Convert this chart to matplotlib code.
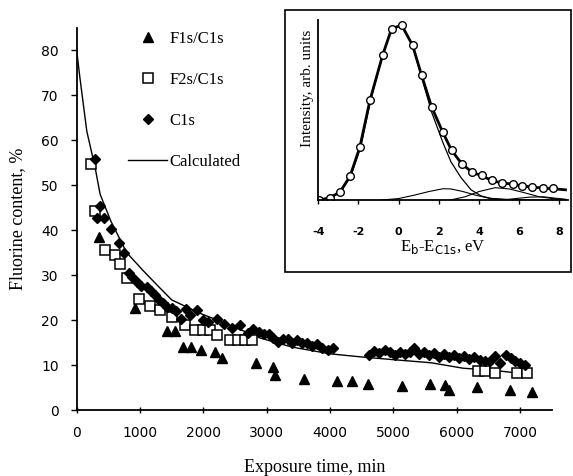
import matplotlib
matplotlib.use("Agg")
import matplotlib.pyplot as plt
from matplotlib.patches import Rectangle

plt.rcParams["axes.unicode_minus"] = False

# ---------------- main plot data ----------------
f1s_t = [350, 921, 1422, 1553, 1675, 1806, 1964, 2185, 2290, 2833, 3096, 3133,
         3591, 4107, 4344, 4607, 5134, 5581, 5818, 5871, 6319, 6834, 7188]
f1s_v = [38.4, 22.8, 17.5, 17.5, 14.0, 14.0, 13.4, 13.0, 11.5, 10.4, 9.5, 7.8,
         6.9, 6.5, 6.5, 5.8, 5.4, 5.8, 5.6, 4.5, 5.1, 4.5, 4.1]

f2s_t = [225, 290, 450, 605, 685, 790, 990, 1160, 1320, 1500, 1710, 1870, 2000,
         2110, 2210, 2420, 2550, 2660, 2770, 6340, 6450, 6610, 6950, 7110]
f2s_v = [54.7, 44.3, 35.7, 34.6, 32.4, 29.4, 24.6, 23.1, 22.3, 20.8, 19.0, 17.9, 17.9,
         17.9, 16.7, 15.6, 15.6, 15.6, 15.6, 8.6, 8.6, 8.2, 8.2, 8.2]

c1s_t = [290, 370, 320, 430, 540, 660, 740, 820, 880, 950, 1020, 1110, 1180, 1240,
         1300, 1360, 1430, 1500, 1560, 1640, 1730, 1790, 1900, 1990, 2080, 2220,
         2330, 2450, 2580, 2700, 2790, 2880, 2950, 3030, 3100, 3180, 3260, 3330,
         3400, 3480, 3560, 3640, 3720, 3800, 3880, 3960, 4040, 4620, 4700, 4780,
         4860, 4940, 5020, 5100, 5180, 5260, 5330, 5400, 5480, 5560, 5640, 5720,
         5800, 5880, 5960, 6040, 6120, 6200, 6280, 6360, 6440, 6520, 6600, 6680,
         6780, 6850, 6920, 7000, 7080]
c1s_v = [55.8, 45.3, 42.8, 42.8, 40.2, 37.2, 35.0, 30.5, 29.5, 28.5, 27.5, 27.3, 26.5, 25.5,
         24.5, 23.8, 23.0, 22.6, 22.0, 20.3, 22.5, 21.2, 22.3, 20.0, 19.5, 20.3,
         19.2, 18.3, 19.0, 17.2, 18.0, 17.3, 16.8, 16.9, 16.0, 15.2, 15.7, 15.9,
         15.0, 15.6, 15.0, 14.8, 14.2, 14.6, 13.9, 13.4, 13.9, 12.3, 13.2, 12.6,
         13.3, 12.9, 12.2, 13.0, 12.4, 12.9, 13.8, 12.5, 12.9, 12.3, 12.7, 11.9,
         12.5, 11.8, 12.3, 11.5, 12.1, 11.4, 11.8, 11.2, 11.0, 10.8, 12.0, 10.5,
         12.3, 11.6, 11.0, 10.4, 10.0]

calc_t = [0, 50, 160, 290, 370, 540, 790, 1050, 1290, 1500, 1950, 2400, 2900,
          3400, 4000, 4500, 5000, 5600, 6100, 6600, 7100]
calc_v = [80, 74, 62, 54, 48, 42, 35, 31, 27.5, 24.5, 21.5, 19.0, 16.0,
          14.0, 12.5, 11.8, 11.2, 10.5, 9.3, 8.8, 8.0]

x_ticks = [0, 1000, 2000, 3000, 4000, 5000, 6000, 7000]
y_ticks = [0, 10, 20, 30, 40, 50, 60, 70, 80]

# ---------------- inset data ----------------
exp_e = [-3.95, -3.42, -2.92, -2.42, -1.93, -1.43, -0.80, -0.35, 0.15, 0.69, 1.14,
         1.64, 2.19, 2.63, 3.13, 3.63, 4.13, 4.62, 5.12, 5.67, 6.12, 6.61, 7.19, 7.66]
exp_i = [0.0, 0.015, 0.048, 0.137, 0.305, 0.571, 0.829, 0.981, 1.0, 0.886, 0.714,
         0.533, 0.390, 0.286, 0.210, 0.162, 0.143, 0.114, 0.099, 0.095, 0.082,
         0.076, 0.072, 0.072]
fit_e = [-4.0, -3.42, -2.92, -2.42, -1.93, -1.43, -0.80, -0.35, 0.15, 0.69, 1.14,
         1.64, 2.19, 2.63, 3.13, 3.63, 4.13, 4.62, 5.12, 5.67, 6.12, 6.61, 7.19, 7.66, 8.3]
fit_i = [0.0, 0.015, 0.048, 0.137, 0.305, 0.571, 0.829, 0.981, 1.0, 0.886, 0.714,
         0.533, 0.390, 0.286, 0.210, 0.162, 0.140, 0.114, 0.099, 0.093, 0.082,
         0.076, 0.070, 0.066, 0.060]
main_e = [-4.0, -3.4, -2.9, -2.4, -1.9, -1.4, -0.8, -0.35, 0.15, 0.7, 1.15, 1.65,
          2.2, 2.6, 3.1, 3.6, 4.1, 4.6, 5.5, 8.3]
main_i = [0.0, 0.015, 0.047, 0.135, 0.30, 0.57, 0.83, 0.98, 1.0, 0.88, 0.70, 0.50,
          0.33, 0.22, 0.13, 0.06, 0.025, 0.01, 0.003, 0.0]
c2_e = [-1.0, 0.0, 0.8, 1.5, 2.2, 2.6, 3.2, 3.8, 4.5, 5.5, 6.5]
c2_i = [0.0, 0.01, 0.03, 0.05, 0.066, 0.065, 0.05, 0.03, 0.012, 0.003, 0.0]
c3_e = [2.5, 3.3, 4.0, 4.8, 5.5, 6.2, 7.0, 7.8, 8.3]
c3_i = [0.0, 0.02, 0.05, 0.072, 0.065, 0.045, 0.02, 0.008, 0.003]
c4_e = [4.5, 5.5, 6.5, 7.2, 7.8, 8.3]
c4_i = [0.0, 0.006, 0.018, 0.02, 0.012, 0.006]
inset_ticks = [-4, -2, 0, 2, 4, 6, 8]

SERIF = ["Liberation Serif", "DejaVu Serif"]
SANS = ["DejaVu Sans"]

W, H = 573, 476
fig = plt.figure(figsize=(W / 100, H / 100), dpi=100)

def fx(px):
    return px / W

def fy(py):
    return 1 - py / H

# main axes: x 0..7500 at px 76.7..551.7 ; y 0..85 at px 410..28
ax = fig.add_axes([fx(76.7), fy(410), fx(551.7) - fx(76.7), fy(28) - fy(410)])
ax.plot(calc_t, calc_v, color="black", lw=1.0, label="Calculated", zorder=2)
ax.plot(f1s_t, f1s_v, ls="none", marker="^", ms=6.5, color="black", label="F1s/C1s", zorder=3)
ax.plot(f2s_t, f2s_v, ls="none", marker="s", ms=6.5, mfc="white", mec="black",
        mew=1.1, label="F2s/C1s", zorder=3)
ax.plot(c1s_t, c1s_v, ls="none", marker="D", ms=5.5, color="black", label="C1s", zorder=4)

ax.set_xlim(0, 7500)
ax.set_ylim(0, 85)
ax.set_xticks(x_ticks)
ax.set_yticks(y_ticks)
for s in ["top", "right"]:
    ax.spines[s].set_visible(False)
for s in ["left", "bottom"]:
    ax.spines[s].set_linewidth(1.3)
ax.tick_params(axis="x", direction="inout", length=5, width=1.0, pad=9, labelsize=10)
ax.tick_params(axis="y", direction="out", length=4, width=1.0, pad=9, labelsize=10)
for lab in ax.get_xticklabels() + ax.get_yticklabels():
    lab.set_family(SANS)
ax.set_xlabel("Exposure time, min", family=SERIF, fontsize=13, labelpad=14)
ax.set_ylabel("Fluorine content, %", family=SERIF, fontsize=13, labelpad=11)

handles, labels = ax.get_legend_handles_labels()
order = [1, 2, 3, 0]
leg = ax.legend([handles[i] for i in order], [labels[i] for i in order],
                loc="upper left", bbox_to_anchor=(fx(128), fy(31)),
                bbox_transform=fig.transFigure, frameon=False, borderpad=0,
                borderaxespad=0, handlelength=2.35, handletextpad=0.15,
                labelspacing=1.5, numpoints=1, prop={"family": SERIF, "size": 12})

# inset frame
fig.patches.append(Rectangle((fx(285), fy(272)), fx(571) - fx(285), fy(10) - fy(272),
                             transform=fig.transFigure, fill=False, ec="black", lw=1.2,
                             figure=fig))

# inset axes: x -4..8.4 at px 318.3..567.5 ; y 0..1.03 at px 200.3..20
axi = fig.add_axes([fx(318.3), fy(200.3), fx(567.5) - fx(318.3), fy(20) - fy(200.3)])
axi.set_facecolor("none")
axi.plot(c2_e, c2_i, color="black", lw=0.8)
axi.plot(c3_e, c3_i, color="black", lw=0.8)
axi.plot(c4_e, c4_i, color="black", lw=0.8)
axi.plot(main_e, main_i, color="black", lw=0.9)
axi.plot(fit_e, fit_i, color="black", lw=2.0)
axi.plot(exp_e, exp_i, ls="none", marker="o", ms=5.5, mfc="white", mec="black", mew=1.0)
axi.set_xlim(-4, 8.4)
axi.set_ylim(0, 1.03)
axi.set_xticks(inset_ticks)
axi.set_yticks([])
for s in ["top", "right"]:
    axi.spines[s].set_visible(False)
for s in ["left", "bottom"]:
    axi.spines[s].set_linewidth(1.3)
axi.tick_params(axis="x", direction="out", length=3, width=1.0, pad=16, labelsize=8)
for lab in axi.get_xticklabels():
    lab.set_family(SANS)
    lab.set_fontweight("bold")
axi.set_xlabel(r"E$_{\rm b}$-E$_{\rm C1s}$, eV", family=SERIF, fontsize=12, labelpad=1)
axi.set_ylabel("Intensity, arb. units", family=SERIF, fontsize=11)
axi.yaxis.set_label_coords(-0.018, 0.62)

fig.savefig("out.png", dpi=100)
